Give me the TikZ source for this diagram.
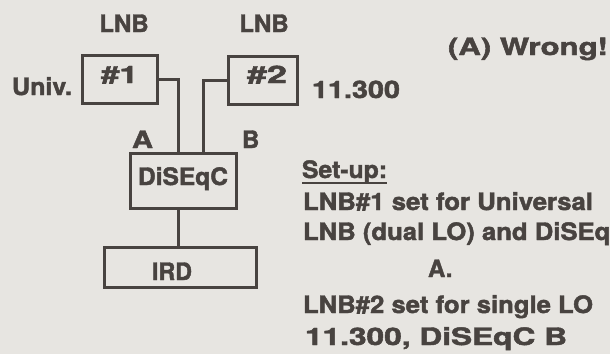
\documentclass[tikz,border=0pt]{standalone}
\usepackage{fontspec}
\usepackage{graphicx}
\newfontfamily\hel{TeX Gyre Heros}[BoldFeatures={FakeBold=1.8}]
\definecolor{ink}{RGB}{72,67,64}
\definecolor{paper}{RGB}{231,229,225}
\newcommand\fw[2]{\resizebox{#1}{\height}{#2}}
\begin{document}
\begin{tikzpicture}[x=1pt,y=-1pt,
  every node/.style={text=ink, font=\hel\bfseries\fontsize{24}{28}\selectfont, inner sep=0pt, outer sep=0pt},
  box/.style={draw=ink, line width=3pt, rectangle, text depth=0pt},
  wire/.style={draw=ink, line width=3pt}]
\useasboundingbox (0,0) rectangle (610,354);
\fill[paper] (0,0) rectangle (610,354);

% boxes
\node[box, minimum width=75pt, minimum height=48pt, text height=8pt] (b1) at (119.5,79) {\fw{37pt}{\#1}};
\node[box, minimum width=69pt, minimum height=48pt, text height=6pt] (b2) at (262.5,80) {\hspace*{9pt}\fw{40pt}{\#2}};
\node[box, minimum width=106pt, minimum height=55pt, text height=9pt] (dis) at (183,180.5) {\fw{90pt}{DiSEqC}};
\node[box, minimum width=152pt, minimum height=40pt, text height=26pt] (ird) at (180,267) {\fw{40pt}{IRD}\hspace*{16pt}};

% connectors
\draw[wire] (b1.east) -| ([xshift=-5pt]dis.north);
\draw[wire] (b2.west) -| ([xshift=20pt]dis.north);
\draw[wire] ([xshift=-5pt]dis.south) -- ([xshift=-5pt]dis.south |- ird.north);

% labels
\node[anchor=base] (lnb1) at (124,32) {LNB};
\node[anchor=base] (lnb2) at (264,32) {LNB};
\node[anchor=base west] (univ) at (12,95) {\fw{60pt}{Univ.}};
\node[anchor=base west] (f2) at (312,98) {\fw{88pt}{11.300}};
\node[anchor=base west] (la) at (132,148) {\fw{21pt}{A}};
\node[anchor=base west] (lb) at (242,148) {B};
\node[anchor=base west] (wrong) at (448,55) {\fw{160pt}{(A) Wrong!}};

% set-up text
\node[anchor=base west] (su) at (302,178) {\fw{85pt}{Set-up:}};
\draw[ink, line width=1.5pt] ([yshift=-5pt]su.base west) -- ([yshift=-5pt]su.base east);
\node[anchor=base west] (s1) at (303,210) {\fw{290pt}{LNB\#1 set for Universal}};
\node[anchor=base west] (s2) at (303,240) {\scalebox{1.07}[1]{LNB (dual LO) and DiSEqC}};
\node[anchor=base west] (s3) at (428,277) {A.};
\node[anchor=base west] (s4) at (303,313) {\fw{290pt}{LNB\#2 set for single LO}};
\node[anchor=base west] (s5) at (305,345) {\fw{262pt}{11.300, DiSEqC B}};
\end{tikzpicture}
\end{document}
